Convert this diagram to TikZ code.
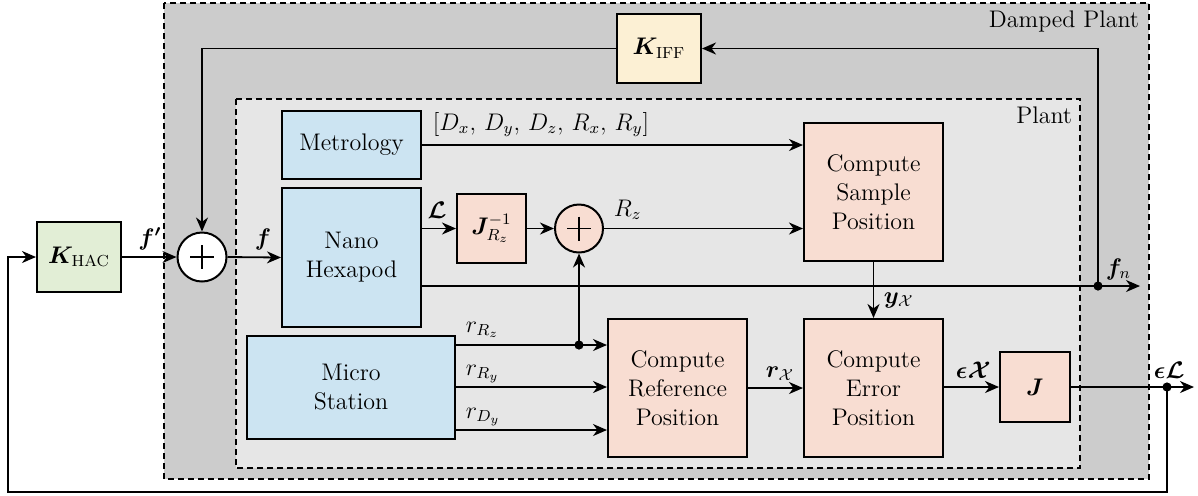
\documentclass[tikz,border=0pt]{standalone}
\usepackage{amsmath,bm}
\usetikzlibrary{arrows.meta,calc}
\definecolor{cblue}{RGB}{204,228,242}
\definecolor{cpink}{RGB}{248,221,210}
\definecolor{cgreen}{RGB}{226,238,214}
\definecolor{cyellow}{RGB}{252,240,212}
\definecolor{cdark}{RGB}{204,204,204}
\definecolor{clight}{RGB}{230,230,230}
\begin{document}
\begin{tikzpicture}[x=0.5pt,y=-0.5pt,
  font=\fontsize{12}{14.5}\selectfont,
  line width=0.9pt,
  >={Stealth[length=7pt,width=6pt,inset=2.2pt]},
  blk/.style={draw,line width=1pt,align=center,inner sep=1pt},
  bluebox/.style={blk,fill=cblue},
  pinkbox/.style={blk,fill=cpink},
  sumnode/.style={draw,circle,line width=1pt,inner sep=0pt},
  region/.style={dash pattern=on 3pt off 2pt,line width=1pt},
  lbl/.style={inner sep=0pt},
  dot/.style={fill,circle,inner sep=0pt,minimum size=4.6pt}
]
\useasboundingbox (0,0) rectangle (1198,495);
% regions
\draw[region,fill=cdark] (164,3) rectangle (1149,479);
\draw[region,fill=clight] (236,99) rectangle (1080,468);
\node[lbl,anchor=base east] (dplbl) at (1140,27) {Damped Plant};
\node[lbl,anchor=base east] (plbl) at (1073,123) {Plant};
% blocks
\node[blk,fill=cgreen,minimum width=42pt,minimum height=35pt] (khac) at (79,257) {$\bm{K}_{\text{HAC}}$};
\node[sumnode,fill=white,minimum size=24.5pt] (sum1) at (202,257) {};
\draw[line width=0.6pt] ($(sum1.center)+(-12,0)$) -- ($(sum1.center)+(12,0)$);
\draw[line width=0.6pt] ($(sum1.center)+(0,-12)$) -- ($(sum1.center)+(0,12)$);
\node[blk,fill=cyellow,minimum width=42pt,minimum height=34.5pt] (kiff) at (659,48.5) {$\bm{K}_{\text{IFF}}$};
\node[bluebox,minimum width=69.5pt,minimum height=34pt] (metro) at (351.5,145) {Metrology};
\node[bluebox,minimum width=69.5pt,minimum height=69.5pt] (nano) at (351.5,257.5) {Nano\\Hexapod};
\node[bluebox,minimum width=104pt,minimum height=51.5pt] (micro) at (351,387.5) {Micro\\Station};
\node[pinkbox,minimum width=34.5pt,minimum height=34.5pt] (jrz) at (491.5,228.5) {$\bm{J}_{R_z}^{-1}$};
\node[sumnode,fill=cpink,minimum size=24pt] (sum2) at (579,228.5) {};
\draw[line width=0.6pt] ($(sum2.center)+(-12,0)$) -- ($(sum2.center)+(12,0)$);
\draw[line width=0.6pt] ($(sum2.center)+(0,-12)$) -- ($(sum2.center)+(0,12)$);
\node[pinkbox,minimum width=69.5pt,minimum height=69pt] (csp) at (873.5,192) {Compute\\Sample\\Position};
\node[pinkbox,minimum width=69.5pt,minimum height=69pt] (cref) at (677.5,388) {Compute\\Reference\\Position};
\node[pinkbox,minimum width=69.5pt,minimum height=69pt] (cerr) at (873.5,388) {Compute\\Error\\Position};
\node[pinkbox,minimum width=35pt,minimum height=35pt] (jbox) at (1035,387) {$\bm{J}$};
% coordinates
\coordinate (fnj) at (1098,286);
\coordinate (fnend) at (1140,286);
\coordinate (rzj) at (579,345);
\coordinate (ry) at (579,387);
\coordinate (dy) at (579,430);
\coordinate (elj) at (1167,387);
\coordinate (elend) at (1194,387);
\coordinate (fbl) at (8,492);
% connectors
\draw[->] (khac.east) -- (sum1.west);
\draw[->] (sum1.east) -- (nano.west);
\draw[->] (metro.east) -- (metro.east -| csp.west);
\draw[->] (jrz.west -| nano.east) -- (jrz.west);
\draw[->] (jrz.east) -- (sum2.west);
\draw[->] (sum2.east) -- (sum2.east -| csp.west);
\draw[->] (fnj -| nano.east) -- (fnend);
\draw[->] (fnj) -- (fnj |- kiff.east) -- (kiff.east);
\draw[->] (kiff.west) -- (kiff.west -| sum1.north) -- (sum1.north);
\draw[->] (csp.south) -- (cerr.north);
\draw[->] (rzj -| micro.east) -- (rzj -| cref.west);
\draw[->] (rzj) -- (sum2.south);
\draw[->] (ry -| micro.east) -- (ry -| cref.west);
\draw[->] (dy -| micro.east) -- (dy -| cref.west);
\draw[->] (cref.east) -- (cref.east -| cerr.west);
\draw[->] (cerr.east |- jbox.west) -- (jbox.west);
\draw[->] (jbox.east) -- (elend);
\draw[->] (elj) |- (fbl) |- (khac.west);
\node[dot] (d1) at (fnj) {};
\node[dot] (d2) at (rzj) {};
\node[dot] (d3) at (elj) {};
% labels
\node[lbl,anchor=base] (lfp) at (150,245) {$\bm{f'}$};
\node[lbl,anchor=base] (lf) at (263,245) {$\bm{f}$};
\node[lbl,anchor=base] (lL) at (437,218) {$\bm{\mathcal{L}}$};
\node[lbl,anchor=base west] (lmet) at (432,130) {$[D_x,\, D_y,\, D_z,\, R_x,\, R_y]$};
\node[lbl,anchor=base west] (lrz) at (613,216) {$R_z$};
\node[lbl,anchor=base west] (lfn) at (1105,275) {$\bm{f}_n$};
\node[lbl,anchor=base west] (lyx) at (883,303) {$\bm{y}_{\mathcal{X}}$};
\node[lbl,anchor=base west] (lrx) at (765,377) {$\bm{r}_{\mathcal{X}}$};
\node[lbl,anchor=base west] (lex) at (955,378) {$\bm{\epsilon}\bm{\mathcal{X}}$};
\node[lbl,anchor=base west] (lel) at (1153,378) {$\bm{\epsilon}\bm{\mathcal{L}}$};
\node[lbl,anchor=base west] (lrrz) at (465,332) {$r_{R_z}$};
\node[lbl,anchor=base west] (lrry) at (465,375) {$r_{R_y}$};
\node[lbl,anchor=base west] (lrdy) at (465,418) {$r_{D_y}$};
\end{tikzpicture}
\end{document}
